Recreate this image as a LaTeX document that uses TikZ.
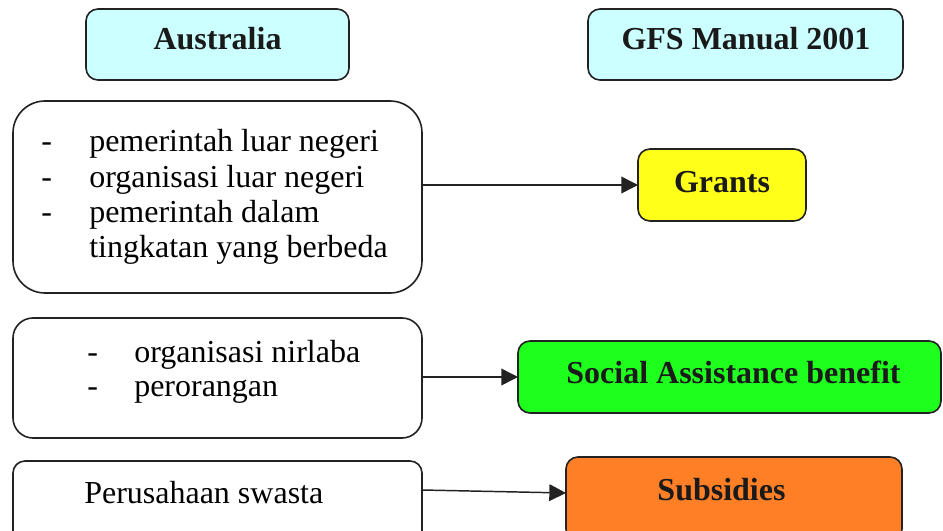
\documentclass[tikz,border=0pt]{standalone}
\usepackage{fontspec}
\setmainfont{Liberation Serif}
\usetikzlibrary{arrows.meta,calc}
\definecolor{edgegray}{HTML}{222222}
\definecolor{inkgray}{HTML}{1A1A1A}
\definecolor{headcyan}{HTML}{CCFFFF}
\definecolor{grantyellow}{HTML}{FFFF1A}
\definecolor{socgreen}{HTML}{1EFF1E}
\definecolor{suborange}{HTML}{FF7F27}
\begin{document}
\begin{tikzpicture}[x=0.75pt,y=-0.75pt,
  box/.style={draw=edgegray, line width=1.2pt, rounded corners=9pt,
    inner sep=0pt, outer sep=0pt},
  head/.style={box, fill=headcyan, minimum height=53.25pt},
  srcbox/.style={box, fill=white, minimum width=306.75pt},
  txt/.style={anchor=base west, inner sep=0pt, text=black,
    font=\fontsize{24}{28}\selectfont},
  lbl/.style={anchor=base, inner sep=0pt, text=inkgray,
    font=\bfseries\fontsize{24}{28}\selectfont},
  link/.style={draw=edgegray, line width=1.1pt,
    -{Triangle[length=12.5pt,width=12.5pt]}}]
\useasboundingbox (0,0) rectangle (943,531);

% column headers
\node[head, minimum width=197.25pt] (hAus) at (217.5,44.5) {};
\node[lbl] (hAusT) at (217.5,50) {Australia};
\node[head, minimum width=236.25pt] (hGfs) at (745.5,44.5) {};
\node[lbl] (hGfsT) at (746,50) {GFS Manual 2001};

% Australian categories
\node[srcbox, minimum height=144pt, rounded corners=24pt] (b1) at (217.5,197) {};
\node[txt] (b1d1) at (41,152) {-};
\node[txt] (b1t1) at (89,152) {pemerintah luar negeri};
\node[txt] (b1d2) at (41,187.3) {-};
\node[txt] (b1t2) at (89,187.3) {organisasi luar negeri};
\node[txt] (b1d3) at (41,222.7) {-};
\node[txt] (b1t3) at (89,222.7) {pemerintah dalam};
\node[txt] (b1t4) at (89,257.3) {tingkatan yang berbeda};

\node[srcbox, minimum height=90pt, rounded corners=15pt] (b2) at (217.5,378) {};
\node[txt] (b2d1) at (87,362) {-};
\node[txt] (b2t1) at (134,362) {organisasi nirlaba};
\node[txt] (b2d2) at (87,396) {-};
\node[txt] (b2t2) at (134,396) {perorangan};

\node[srcbox, minimum height=63pt] (b3) at (217.5,503) {};
\node[txt] (b3t1) at (84,503) {Perusahaan swasta};

% GFS categories
\node[box, fill=grantyellow, minimum width=126pt, minimum height=54pt] (g) at (722,185) {};
\node[lbl] (gT) at (722,193) {Grants};
\node[box, fill=socgreen, minimum width=317.25pt, minimum height=54pt] (sab) at (729.5,377) {};
\node[lbl] (sabT) at (733.5,383) {Social Assistance benefit};
\node[box, fill=suborange, minimum width=252pt, minimum height=63pt] (sub) at (734,499) {};
\node[lbl] (subT) at (721.5,500) {Subsidies};

% mappings
\draw[link] (b1.east |- g.west) -- (g.west);
\draw[link] (b2.east |- sab.west) -- (sab.west);
\coordinate (b3out) at ([yshift=9.75pt]b3.east);
\coordinate (subin) at ([yshift=4.5pt]sub.west);
\draw[link] (b3out) -- (subin);
\end{tikzpicture}
\end{document}
